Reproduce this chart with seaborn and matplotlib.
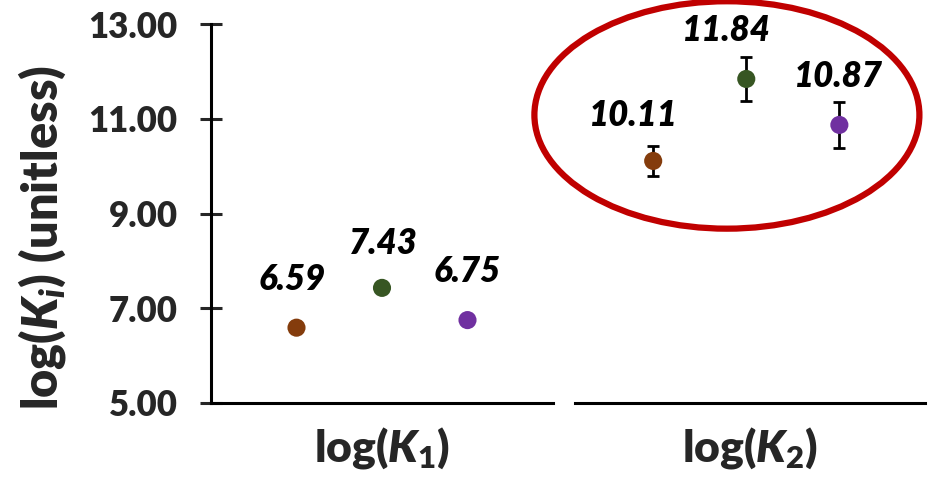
import matplotlib
matplotlib.use("Agg")
import matplotlib.pyplot as plt
from matplotlib.patches import Ellipse
import seaborn as sns
import pandas as pd

# Equilibrium constants for the three species
species = ["A", "B", "C"]
colors = ["#843C0C", "#375623", "#7030A0"]
logK1 = [6.59, 7.43, 6.75]
logK1_err = [0.0, 0.0, 0.0]
logK2 = [10.11, 11.84, 10.87]
logK2_err = [0.32, 0.47, 0.48]
y_ticks = [5.0, 7.0, 9.0, 11.0, 13.0]
panel_labels = [r"log($\mathit{K}_\mathit{1}$)", r"log($\mathit{K}_\mathit{2}$)"]
y_label = r"log($\mathit{K}_\mathit{i}$) (unitless)"

sns.set_theme(style="white")
plt.rcParams["font.family"] = ["Lato", "DejaVu Sans"]
plt.rcParams["font.weight"] = "heavy"
plt.rcParams["mathtext.fontset"] = "custom"
plt.rcParams["mathtext.rm"] = "Lato:heavy"
plt.rcParams["mathtext.it"] = "Lato:italic:heavy"
plt.rcParams["mathtext.bf"] = "Lato:heavy"

W, H = 933, 486
fig = plt.figure(figsize=(W / 100, H / 100), dpi=100)
y0 = 1 - 403 / H
hgt = (403 - 24) / H
ax1 = fig.add_axes([211 / W, y0, (553 - 211) / W, hgt])
ax2 = fig.add_axes([575 / W, y0, (925 - 575) / W, hgt])

pal = dict(zip(species, colors))
panels = [
    (ax1, logK1, logK1_err, (0, 4), [(-3, 35), (1, 32), (0, 35)]),
    (ax2, logK2, logK2_err, (0.16, 3.92), [(-14, 33), (-14, 35), (-1, 35)]),
]
for i, (ax, vals, errs, xl, offs) in enumerate(panels):
    df = pd.DataFrame({"x": [1, 2, 3], "y": vals, "s": species})
    if any(e > 0 for e in errs):
        ax.errorbar(df["x"], df["y"], yerr=errs, fmt="none", ecolor="black",
                    elinewidth=2.0, capsize=4, capthick=2.0, zorder=2)
    sns.scatterplot(data=df, x="x", y="y", hue="s", palette=pal, s=170,
                    edgecolor="none", legend=False, ax=ax, zorder=3)
    for xv, yv, (dx, dy) in zip(df["x"], df["y"], offs):
        ax.annotate(f"{yv:.2f}", (xv, yv), xytext=(dx, dy), textcoords="offset points",
                    ha="center", va="center", fontsize=25, fontstyle="italic",
                    fontweight="heavy", color="black")
    ax.set_xlim(*xl)
    ax.set_ylim(5, 13)
    ax.set_xticks([])
    ax.set_xlabel("")
    ax.set_ylabel("")
    for sp in ["top", "right"]:
        ax.spines[sp].set_visible(False)
    ax.spines["bottom"].set_linewidth(2.2)
    ax.spines["bottom"].set_color("black")
    ax.text(0.5, -0.12, panel_labels[i], transform=ax.transAxes, ha="center",
            va="center", fontsize=32, fontweight="heavy")

ax1.spines["left"].set_linewidth(2.2)
ax1.spines["left"].set_color("black")
ax1.set_yticks(y_ticks)
ax1.set_yticklabels([f"{t:.2f}" for t in y_ticks], fontsize=25, fontweight="heavy")
ax1.tick_params(axis="y", direction="inout", length=16, width=2.2, pad=16, left=True)
ax1.set_ylabel(y_label, fontsize=35, fontweight="heavy")
ax1.yaxis.label.set_verticalalignment("center")
ax1.yaxis.set_label_coords(-0.494, 0.438)

ax2.spines["left"].set_visible(False)
ax2.set_yticks([])

# Highlight the second-constant group
ell = Ellipse((0.434, 0.76), width=1.10, height=0.60, transform=ax2.transAxes,
              fill=False, edgecolor="#C00000", linewidth=4.5, clip_on=False)
ax2.add_patch(ell)

fig.savefig("out.png", dpi=100)
